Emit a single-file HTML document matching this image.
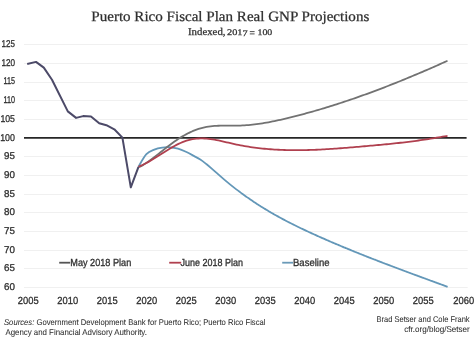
<!DOCTYPE html>
<html><head><meta charset="utf-8"><style>
html,body{margin:0;padding:0;background:#fff;width:474px;height:341px;overflow:hidden}
svg{display:block;will-change:transform;text-rendering:geometricPrecision}
</style></head><body>
<svg width="474" height="341" viewBox="0 0 474 341">
<rect width="474" height="341" fill="#fff"/>
<g fill="#2f2f2f" stroke="#2f2f2f" stroke-width="0.25" font-family="Liberation Serif">
<text x="91.3" y="20.6" font-size="14.3" textLength="278" lengthAdjust="spacingAndGlyphs">Puerto Rico Fiscal Plan Real GNP Projections</text>
<text x="188.0" y="35.1" font-size="10.3" textLength="37.5" lengthAdjust="spacingAndGlyphs">Indexed,</text>
<text x="227.0" y="35.1" font-size="8.6" textLength="20.6" lengthAdjust="spacingAndGlyphs">201<tspan dy="1.2">7</tspan></text>
<path d="M249.8,31.6H254.6M249.8,33.9H254.6" fill="none" stroke-width="0.85"/>
<text x="257.5" y="35.1" font-size="8.6" textLength="14.8" lengthAdjust="spacingAndGlyphs">100</text>
</g>
<g stroke="#f0f0f0" stroke-width="1"><line x1="24" x2="467.7" y1="287.5" y2="287.5"/><line x1="24" x2="467.7" y1="268.5" y2="268.5"/><line x1="24" x2="467.7" y1="250.5" y2="250.5"/><line x1="24" x2="467.7" y1="231.5" y2="231.5"/><line x1="24" x2="467.7" y1="212.5" y2="212.5"/><line x1="24" x2="467.7" y1="194.5" y2="194.5"/><line x1="24" x2="467.7" y1="175.5" y2="175.5"/><line x1="24" x2="467.7" y1="156.5" y2="156.5"/><line x1="24" x2="467.7" y1="119.5" y2="119.5"/><line x1="24" x2="467.7" y1="100.5" y2="100.5"/><line x1="24" x2="467.7" y1="82.5" y2="82.5"/><line x1="24" x2="467.7" y1="63.5" y2="63.5"/><line x1="24" x2="467.7" y1="44.5" y2="44.5"/></g>
<line x1="24" x2="466.6" y1="137.9" y2="137.9" stroke="#262626" stroke-width="1.8"/>
<g font-family="Liberation Sans" font-size="10.3" fill="#2f2f2f" stroke="#2f2f2f" stroke-width="0.3">
<g text-anchor="end" font-size="9.9" stroke-width="0.3"><text x="15.0" y="290.00" textLength="10.9" lengthAdjust="spacingAndGlyphs">60</text><text x="15.0" y="271.31" textLength="10.9" lengthAdjust="spacingAndGlyphs">65</text><text x="15.0" y="252.62" textLength="10.9" lengthAdjust="spacingAndGlyphs">70</text><text x="15.0" y="233.94" textLength="10.9" lengthAdjust="spacingAndGlyphs">75</text><text x="15.0" y="215.25" textLength="10.9" lengthAdjust="spacingAndGlyphs">80</text><text x="15.0" y="196.56" textLength="10.9" lengthAdjust="spacingAndGlyphs">85</text><text x="15.0" y="177.88" textLength="10.9" lengthAdjust="spacingAndGlyphs">90</text><text x="15.0" y="159.19" textLength="10.9" lengthAdjust="spacingAndGlyphs">95</text><text x="15.0" y="140.50" textLength="14.8" lengthAdjust="spacingAndGlyphs">100</text><text x="15.0" y="121.81" textLength="14.6" lengthAdjust="spacingAndGlyphs">105</text><text x="15.0" y="103.12" textLength="11.5" lengthAdjust="spacingAndGlyphs">110</text><text x="15.0" y="84.44" textLength="11.5" lengthAdjust="spacingAndGlyphs">115</text><text x="15.0" y="65.75" textLength="13.6" lengthAdjust="spacingAndGlyphs">120</text><text x="15.0" y="47.06" textLength="13.4" lengthAdjust="spacingAndGlyphs">125</text></g>
<g text-anchor="middle"><text x="28.20" y="303.5" textLength="20.8" lengthAdjust="spacingAndGlyphs">2005</text><text x="67.70" y="303.5" textLength="20.8" lengthAdjust="spacingAndGlyphs">2010</text><text x="107.20" y="303.5" textLength="20.8" lengthAdjust="spacingAndGlyphs">2015</text><text x="146.70" y="303.5" textLength="20.8" lengthAdjust="spacingAndGlyphs">2020</text><text x="186.20" y="303.5" textLength="20.8" lengthAdjust="spacingAndGlyphs">2025</text><text x="225.70" y="303.5" textLength="20.8" lengthAdjust="spacingAndGlyphs">2030</text><text x="265.20" y="303.5" textLength="20.8" lengthAdjust="spacingAndGlyphs">2035</text><text x="304.70" y="303.5" textLength="20.8" lengthAdjust="spacingAndGlyphs">2040</text><text x="344.20" y="303.5" textLength="20.8" lengthAdjust="spacingAndGlyphs">2045</text><text x="383.70" y="303.5" textLength="20.8" lengthAdjust="spacingAndGlyphs">2050</text><text x="423.20" y="303.5" textLength="20.8" lengthAdjust="spacingAndGlyphs">2055</text><text x="463.70" y="303.5" textLength="20.8" lengthAdjust="spacingAndGlyphs">2060</text></g>
<text x="70.3" y="265.9" textLength="61" lengthAdjust="spacingAndGlyphs">May 2018 Plan</text>
<text x="180.6" y="265.9" textLength="62.5" lengthAdjust="spacingAndGlyphs">June 2018 Plan</text>
<text x="293.0" y="265.9" textLength="36.5" lengthAdjust="spacingAndGlyphs">Baseline</text>
</g>
<g fill="none" stroke-width="1.8" stroke-linejoin="round" stroke-linecap="butt">
<path d="M138.50,166.60 C139.82,164.53 143.77,157.03 146.40,154.20 C149.03,151.37 151.67,150.70 154.30,149.60 C156.93,148.50 159.57,147.98 162.20,147.60 C164.83,147.22 167.47,147.12 170.10,147.30 C172.73,147.48 175.37,147.95 178.00,148.70 C180.63,149.45 183.27,150.60 185.90,151.80 C188.53,153.00 191.40,154.61 193.80,155.90 C196.20,157.19 198.22,158.16 200.30,159.51 C202.38,160.87 204.30,162.44 206.30,164.04 C208.30,165.64 210.30,167.36 212.30,169.09 C214.30,170.82 216.30,172.67 218.30,174.43 C220.30,176.19 222.30,177.95 224.30,179.65 C226.30,181.35 228.30,183.00 230.30,184.62 C232.30,186.23 234.63,188.05 236.30,189.34 C237.97,190.63 239.30,191.61 240.30,192.36 C241.30,193.11 241.63,193.34 242.30,193.83 C242.97,194.32 243.63,194.80 244.30,195.28 C244.97,195.76 245.63,196.23 246.30,196.70 C246.97,197.17 247.63,197.64 248.30,198.10 C248.97,198.57 249.63,199.03 250.30,199.48 C250.97,199.94 251.63,200.39 252.30,200.84 C252.97,201.29 253.63,201.73 254.30,202.17 C254.97,202.61 255.63,203.05 256.30,203.49 C256.97,203.92 257.63,204.35 258.30,204.78 C258.97,205.20 259.63,205.63 260.30,206.05 C260.97,206.47 261.63,206.89 262.30,207.30 C262.97,207.72 263.63,208.13 264.30,208.53 C264.97,208.94 265.63,209.35 266.30,209.75 C266.97,210.15 267.63,210.55 268.30,210.94 C268.97,211.34 269.63,211.73 270.30,212.12 C270.97,212.51 271.63,212.90 272.30,213.28 C272.97,213.66 273.63,214.04 274.30,214.42 C274.97,214.80 275.63,215.18 276.30,215.55 C276.97,215.92 277.63,216.29 278.30,216.66 C278.97,217.03 279.63,217.39 280.30,217.76 C280.97,218.12 281.63,218.48 282.30,218.84 C282.97,219.19 283.63,219.55 284.30,219.90 C284.97,220.25 285.63,220.61 286.30,220.95 C286.97,221.30 287.63,221.65 288.30,221.99 C288.97,222.34 289.63,222.68 290.30,223.02 C290.97,223.36 291.63,223.70 292.30,224.03 C292.97,224.37 293.63,224.70 294.30,225.03 C294.97,225.36 295.63,225.69 296.30,226.02 C296.97,226.35 297.63,226.68 298.30,227.00 C298.97,227.32 299.63,227.65 300.30,227.97 C300.97,228.29 301.63,228.61 302.30,228.93 C302.97,229.24 303.63,229.56 304.30,229.87 C304.97,230.19 305.63,230.50 306.30,230.81 C306.97,231.12 307.63,231.43 308.30,231.74 C308.97,232.05 309.63,232.36 310.30,232.67 C310.97,232.97 311.63,233.28 312.30,233.58 C312.97,233.88 313.63,234.19 314.30,234.49 C314.97,234.79 315.63,235.09 316.30,235.39 C316.97,235.69 317.63,235.99 318.30,236.28 C318.97,236.58 319.63,236.88 320.30,237.17 C320.97,237.47 321.63,237.76 322.30,238.06 C322.97,238.35 323.63,238.64 324.30,238.94 C324.97,239.23 325.63,239.52 326.30,239.81 C326.97,240.10 327.63,240.39 328.30,240.68 C328.97,240.97 329.63,241.26 330.30,241.54 C330.97,241.83 331.63,242.12 332.30,242.40 C332.97,242.69 333.63,242.97 334.30,243.26 C334.97,243.54 335.63,243.82 336.30,244.11 C336.97,244.39 337.63,244.67 338.30,244.95 C338.97,245.23 339.63,245.51 340.30,245.79 C340.97,246.07 341.63,246.35 342.30,246.63 C342.97,246.91 343.63,247.19 344.30,247.46 C344.97,247.74 345.63,248.02 346.30,248.29 C346.97,248.57 347.63,248.84 348.30,249.12 C348.97,249.39 349.63,249.66 350.30,249.94 C350.97,250.21 351.63,250.48 352.30,250.75 C352.97,251.02 353.63,251.29 354.30,251.56 C354.97,251.83 355.63,252.10 356.30,252.37 C356.97,252.64 357.63,252.91 358.30,253.18 C358.97,253.45 359.63,253.71 360.30,253.98 C360.97,254.25 361.63,254.51 362.30,254.78 C362.97,255.04 363.63,255.31 364.30,255.57 C364.97,255.84 365.63,256.10 366.30,256.36 C366.97,256.63 367.63,256.89 368.30,257.15 C368.97,257.41 369.63,257.68 370.30,257.94 C370.97,258.20 371.63,258.46 372.30,258.72 C372.97,258.98 373.63,259.24 374.30,259.50 C374.97,259.76 375.63,260.02 376.30,260.27 C376.97,260.53 377.63,260.79 378.30,261.05 C378.97,261.31 379.63,261.56 380.30,261.82 C380.97,262.08 381.63,262.33 382.30,262.59 C382.97,262.84 383.63,263.10 384.30,263.35 C384.97,263.61 385.63,263.86 386.30,264.12 C386.97,264.37 387.63,264.62 388.30,264.88 C388.97,265.13 389.63,265.38 390.30,265.64 C390.97,265.89 391.63,266.14 392.30,266.39 C392.97,266.64 393.63,266.90 394.30,267.15 C394.97,267.40 395.63,267.65 396.30,267.90 C396.97,268.15 397.63,268.40 398.30,268.65 C398.97,268.90 399.63,269.15 400.30,269.40 C400.97,269.65 401.63,269.90 402.30,270.15 C402.97,270.39 403.63,270.64 404.30,270.89 C404.97,271.14 405.63,271.39 406.30,271.64 C406.97,271.88 407.63,272.13 408.30,272.38 C408.97,272.63 409.63,272.87 410.30,273.12 C410.97,273.37 411.63,273.61 412.30,273.86 C412.97,274.11 413.63,274.35 414.30,274.60 C414.97,274.84 415.63,275.09 416.30,275.34 C416.97,275.58 417.63,275.83 418.30,276.07 C418.97,276.32 419.63,276.56 420.30,276.81 C420.97,277.05 421.63,277.30 422.30,277.54 C422.97,277.79 423.63,278.03 424.30,278.28 C424.97,278.52 425.63,278.77 426.30,279.01 C426.97,279.25 427.63,279.50 428.30,279.74 C428.97,279.99 429.63,280.23 430.30,280.48 C430.97,280.72 431.63,280.96 432.30,281.21 C432.97,281.45 433.63,281.70 434.30,281.94 C434.97,282.18 435.63,282.43 436.30,282.67 C436.97,282.91 437.63,283.16 438.30,283.40 C438.97,283.65 439.63,283.89 440.30,284.13 C440.97,284.38 441.63,284.62 442.30,284.87 C442.97,285.11 443.63,285.35 444.30,285.60 C444.97,285.84 445.75,286.13 446.30,286.33 C446.85,286.53 447.38,286.72 447.60,286.80" stroke="#6397b8"/>
<path d="M138.50,166.80 L140.50,166.58 L142.50,165.38 L144.50,164.11 L146.50,162.78 L148.50,161.39 L150.50,159.95 L152.50,158.46 L154.50,156.95 L156.50,155.41 L158.50,153.85 L160.50,152.27 L162.50,150.70 L164.50,149.13 L166.50,147.57 L168.50,146.03 L170.50,144.51 L172.50,143.03 L174.50,141.60 L176.50,140.21 L178.50,138.87 L180.50,137.59 L182.50,136.37 L184.50,135.21 L186.50,134.11 L188.50,133.07 L190.50,132.10 L192.50,131.20 L194.50,130.37 L196.50,129.61 L198.50,128.93 L200.50,128.32 L202.50,127.79 L204.50,127.34 L206.50,126.95 L208.50,126.62 L210.50,126.36 L212.50,126.14 L214.50,125.97 L216.50,125.84 L218.50,125.75 L220.50,125.68 L222.50,125.64 L224.50,125.63 L226.50,125.62 L228.50,125.63 L230.50,125.63 L232.50,125.64 L234.50,125.64 L236.50,125.62 L238.50,125.59 L240.50,125.53 L242.50,125.45 L244.50,125.34 L246.50,125.21 L248.50,125.05 L250.50,124.86 L252.50,124.66 L254.50,124.43 L256.50,124.18 L258.50,123.90 L260.50,123.61 L262.50,123.30 L264.50,122.97 L266.50,122.63 L268.50,122.27 L270.50,121.89 L272.50,121.49 L274.50,121.09 L276.50,120.67 L278.50,120.23 L280.50,119.79 L282.50,119.33 L284.50,118.87 L286.50,118.39 L288.50,117.91 L290.50,117.42 L292.50,116.92 L294.50,116.42 L296.50,115.90 L298.50,115.39 L300.50,114.86 L302.50,114.33 L304.50,113.79 L306.50,113.24 L308.50,112.69 L310.50,112.13 L312.50,111.57 L314.50,111.00 L316.50,110.42 L318.50,109.84 L320.50,109.25 L322.50,108.65 L324.50,108.05 L326.50,107.44 L328.50,106.82 L330.50,106.20 L332.50,105.57 L334.50,104.94 L336.50,104.30 L338.50,103.66 L340.50,103.00 L342.50,102.35 L344.50,101.69 L346.50,101.02 L348.50,100.34 L350.50,99.66 L352.50,98.98 L354.50,98.29 L356.50,97.59 L358.50,96.89 L360.50,96.18 L362.50,95.47 L364.50,94.75 L366.50,94.03 L368.50,93.30 L370.50,92.56 L372.50,91.83 L374.50,91.08 L376.50,90.33 L378.50,89.58 L380.50,88.82 L382.50,88.05 L384.50,87.29 L386.50,86.51 L388.50,85.73 L390.50,84.95 L392.50,84.16 L394.50,83.37 L396.50,82.57 L398.50,81.77 L400.50,80.96 L402.50,80.15 L404.50,79.33 L406.50,78.51 L408.50,77.69 L410.50,76.86 L412.50,76.03 L414.50,75.19 L416.50,74.35 L418.50,73.50 L420.50,72.65 L422.50,71.80 L424.50,70.94 L426.50,70.08 L428.50,69.22 L430.50,68.35 L432.50,67.47 L434.50,66.60 L436.50,65.71 L438.50,64.83 L440.50,63.94 L442.50,63.05 L444.50,62.15 L446.50,61.26 L447.50,60.80" stroke="#727272"/>
<path d="M138.50,166.80 L140.50,165.90 L142.50,164.99 L144.50,164.02 L146.50,162.97 L148.50,161.88 L150.50,160.73 L152.50,159.54 L154.50,158.32 L156.50,157.07 L158.50,155.80 L160.50,154.53 L162.50,153.25 L164.50,151.98 L166.50,150.72 L168.50,149.49 L170.50,148.28 L172.50,147.11 L174.50,145.98 L176.50,144.91 L178.50,143.90 L180.50,142.96 L182.50,142.09 L184.50,141.30 L186.50,140.61 L188.50,140.02 L190.50,139.53 L192.50,139.14 L194.50,138.84 L196.50,138.62 L198.50,138.49 L200.50,138.43 L202.50,138.44 L204.50,138.52 L206.50,138.66 L208.50,138.86 L210.50,139.11 L212.50,139.40 L214.50,139.73 L216.50,140.09 L218.50,140.49 L220.50,140.91 L222.50,141.35 L224.50,141.80 L226.50,142.27 L228.50,142.73 L230.50,143.20 L232.50,143.65 L234.50,144.10 L236.50,144.53 L238.50,144.94 L240.50,145.33 L242.50,145.71 L244.50,146.07 L246.50,146.41 L248.50,146.73 L250.50,147.04 L252.50,147.33 L254.50,147.61 L256.50,147.87 L258.50,148.11 L260.50,148.34 L262.50,148.55 L264.50,148.75 L266.50,148.94 L268.50,149.11 L270.50,149.27 L272.50,149.41 L274.50,149.54 L276.50,149.66 L278.50,149.76 L280.50,149.86 L282.50,149.94 L284.50,150.01 L286.50,150.06 L288.50,150.11 L290.50,150.15 L292.50,150.17 L294.50,150.18 L296.50,150.19 L298.50,150.18 L300.50,150.17 L302.50,150.14 L304.50,150.11 L306.50,150.06 L308.50,150.01 L310.50,149.95 L312.50,149.89 L314.50,149.81 L316.50,149.73 L318.50,149.64 L320.50,149.54 L322.50,149.44 L324.50,149.33 L326.50,149.21 L328.50,149.09 L330.50,148.97 L332.50,148.84 L334.50,148.70 L336.50,148.56 L338.50,148.41 L340.50,148.26 L342.50,148.11 L344.50,147.95 L346.50,147.79 L348.50,147.63 L350.50,147.46 L352.50,147.30 L354.50,147.13 L356.50,146.95 L358.50,146.78 L360.50,146.60 L362.50,146.43 L364.50,146.25 L366.50,146.07 L368.50,145.90 L370.50,145.72 L372.50,145.54 L374.50,145.36 L376.50,145.17 L378.50,144.99 L380.50,144.80 L382.50,144.61 L384.50,144.42 L386.50,144.23 L388.50,144.03 L390.50,143.83 L392.50,143.62 L394.50,143.42 L396.50,143.20 L398.50,142.99 L400.50,142.76 L402.50,142.54 L404.50,142.30 L406.50,142.07 L408.50,141.82 L410.50,141.58 L412.50,141.32 L414.50,141.06 L416.50,140.79 L418.50,140.51 L420.50,140.23 L422.50,139.94 L424.50,139.64 L426.50,139.34 L428.50,139.03 L430.50,138.70 L432.50,138.37 L434.50,138.04 L436.50,137.70 L438.50,137.37 L440.50,137.04 L442.50,136.72 L444.50,136.41 L446.50,136.11 L447.50,135.97" stroke="#b0404f"/>
<path d="M27.20,64.00 L36.00,61.90 L43.80,67.60 L52.00,79.70 L67.80,111.40 L76.10,117.90 L83.10,116.10 L91.00,116.50 L99.20,123.20 L106.40,125.20 L114.30,129.30 L122.40,137.60 L130.80,187.30 L138.50,166.80" stroke="#4c4a68" stroke-width="2"/>
</g>
<g stroke-width="1.8">
<line x1="59.2" x2="70.2" y1="262.7" y2="262.7" stroke="#555555"/>
<line x1="169.2" x2="181.2" y1="262.7" y2="262.7" stroke="#b0404f"/>
<line x1="282.2" x2="293.0" y1="262.7" y2="262.7" stroke="#6a9ab8"/>
</g>
<g font-family="Liberation Sans" font-size="8.3" fill="#2f2f2f" stroke="#2f2f2f" stroke-width="0.05">
<text x="4.0" y="324.8" textLength="261.5" lengthAdjust="spacingAndGlyphs"><tspan font-style="italic">Sources:</tspan> Government Development Bank for Puerto Rico; Puerto Rico Fiscal</text>
<text x="5.4" y="334.6" textLength="141.5" lengthAdjust="spacingAndGlyphs">Agency and Financial Advisory Authority.</text>
<text x="376.6" y="321.8" textLength="93" lengthAdjust="spacingAndGlyphs">Brad Setser and Cole Frank</text>
<text x="404.2" y="332.2" textLength="65.6" lengthAdjust="spacingAndGlyphs">cfr.org/blog/Setser</text>
</g>
</svg>
</body></html>
